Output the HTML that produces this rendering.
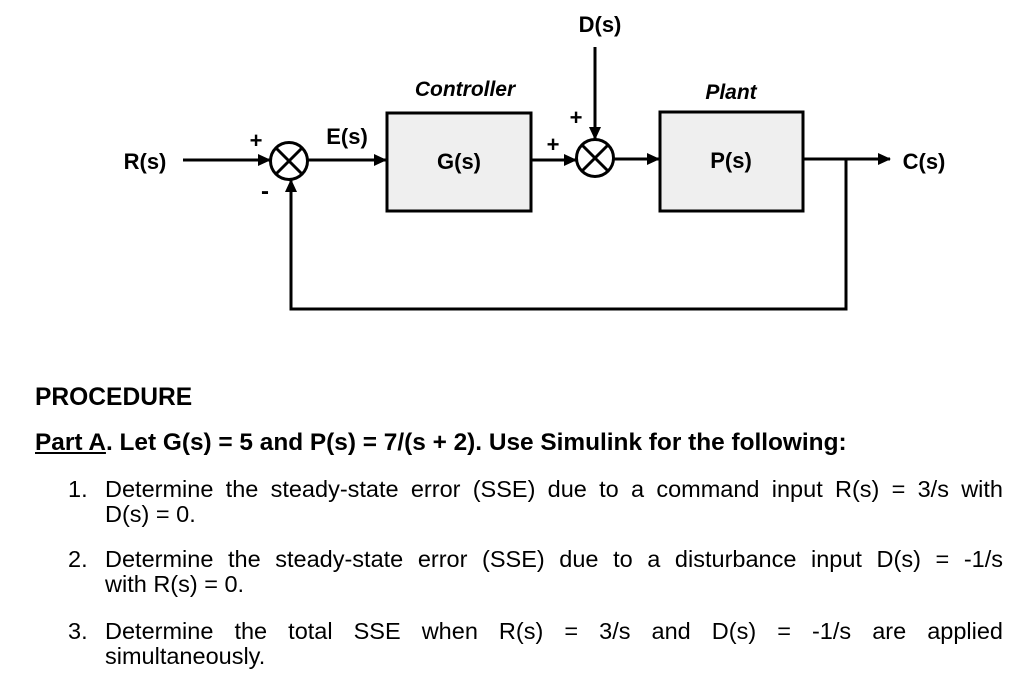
<!DOCTYPE html>
<html><head><meta charset="utf-8"><style>
body{margin:0;width:1032px;height:697px;background:#fff;position:relative;overflow:hidden;font-family:"Liberation Sans",Arial,sans-serif;color:#000}
.t{position:absolute;white-space:nowrap}
.l{position:absolute;left:105px;width:898px;font-size:23.5px;line-height:25px;white-space:nowrap}
.j{text-align:justify;text-align-last:justify}
.n{position:absolute;left:68px;font-size:23.5px;line-height:25px}
</style></head><body>
<svg width="1032" height="340" style="position:absolute;left:0;top:0" xmlns="http://www.w3.org/2000/svg">
<defs><marker id="a" markerWidth="13" markerHeight="12" refX="12" refY="6" orient="auto" markerUnits="userSpaceOnUse"><path d="M0,0 L13,6 L0,12 z" fill="#000"/></marker></defs>
<g stroke="#000" stroke-width="3" fill="none">
<line x1="183" y1="160" x2="270" y2="160" marker-end="url(#a)"/>
<circle cx="289" cy="161" r="18.5"/>
<line x1="276" y1="148" x2="302" y2="174"/><line x1="302" y1="148" x2="276" y2="174"/>
<line x1="308" y1="160" x2="386" y2="160" marker-end="url(#a)"/>
<rect x="387" y="113" width="144" height="98" fill="#efefef"/>
<line x1="531" y1="160" x2="576" y2="160" marker-end="url(#a)"/>
<circle cx="595" cy="158" r="18.5"/>
<line x1="582" y1="145" x2="608" y2="171"/><line x1="608" y1="145" x2="582" y2="171"/>
<line x1="595" y1="47" x2="595" y2="139" marker-end="url(#a)"/>
<line x1="614" y1="159" x2="659" y2="159" marker-end="url(#a)"/>
<rect x="660" y="112" width="143" height="99" fill="#efefef"/>
<line x1="803" y1="159" x2="890" y2="159" marker-end="url(#a)"/>
<polyline points="846,159 846,309 291,309 291,180" marker-end="url(#a)"/>
</g>
<g font-family="Liberation Sans,Arial,sans-serif" font-weight="bold" font-size="22" text-anchor="middle">
<text x="145" y="169">R(s)</text>
<text x="347" y="144">E(s)</text>
<text x="459" y="169">G(s)</text>
<text x="600" y="32">D(s)</text>
<text x="731" y="168">P(s)</text>
<text x="924" y="169">C(s)</text>
<text x="465" y="96" font-style="italic" font-size="21">Controller</text>
<text x="731" y="99" font-style="italic" font-size="21">Plant</text>
<text x="256" y="148" font-size="22">+</text>
<text x="265" y="199" font-size="24">-</text>
<text x="553" y="152" font-size="22">+</text>
<text x="576" y="125" font-size="22">+</text>
</g>
</svg>
<div class="t" style="left:35px;top:384px;font-size:24.6px;font-weight:bold">PROCEDURE</div>
<div class="t" style="left:35px;top:429px;font-size:24.4px;font-weight:bold"><u>Part A</u>. Let G(s) = 5 and P(s) = 7/(s + 2). Use Simulink for the following:</div>
<div class="n" style="top:477px">1.</div>
<div class="l j" style="top:477px">Determine the steady-state error (SSE) due to a command input R(s) = 3/s with</div>
<div class="l" style="top:502px">D(s) = 0.</div>
<div class="n" style="top:547px">2.</div>
<div class="l j" style="top:547px">Determine the steady-state error (SSE) due to a disturbance input D(s) = -1/s</div>
<div class="l" style="top:572px">with R(s) = 0.</div>
<div class="n" style="top:619px">3.</div>
<div class="l j" style="top:619px">Determine the total SSE when R(s) = 3/s and D(s) = -1/s are applied</div>
<div class="l" style="top:644px">simultaneously.</div>
</body></html>
